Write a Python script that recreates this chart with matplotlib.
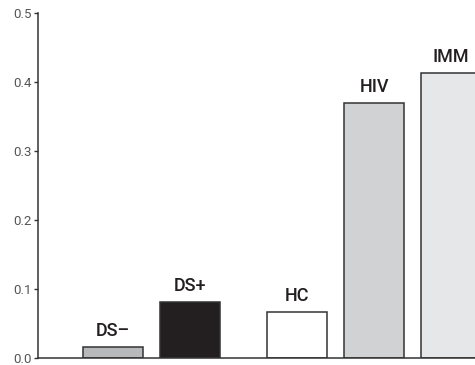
""" Bar chart of group values """
import matplotlib
matplotlib.use('Agg')
import matplotlib.pyplot as plt

# data
groups = ['DS\u2013', 'DS+', 'HC', 'HIV', 'IMM']
values = [0.017, 0.081, 0.067, 0.370, 0.414]
positions = [0, 1, 2.4, 3.4, 4.4]
colors = ['#b8b9bb', '#231f20', '#ffffff', '#d1d2d4', '#e6e7e8']
yticks = [0.0, 0.1, 0.2, 0.3, 0.4, 0.5]

fig = plt.figure(figsize=(4.75, 3.65), dpi=100)
ax = fig.add_axes([0.0806, 0.0184, 0.9194, 0.9452])

ax.bar(positions, values, width=0.78, color=colors, edgecolor='#333333', linewidth=1.1)
for x, v, g in zip(positions, values, groups):
    ax.annotate(g, (x, v), xytext=(0, 5), textcoords='offset points', ha='center', va='bottom',
                fontsize=13, fontweight='medium', family=['Roboto', 'DejaVu Sans'], color='#231f20')

ax.set_xlim(-0.973, 4.714)
ax.set_ylim(0, 0.5)
ax.set_yticks(yticks)
ax.set_yticklabels(['{:.1f}'.format(t) for t in yticks])
ax.set_xticks([])
for s in ['top', 'right']:
    ax.spines[s].set_visible(False)
for s in ['left', 'bottom']:
    ax.spines[s].set_color('#333333')
    ax.spines[s].set_linewidth(1.1)
ax.tick_params(axis='y', length=3, width=1, color='#333333', labelcolor='#555555', labelsize=9.5, pad=2)
for lbl in ax.get_yticklabels():
    lbl.set_family(['Roboto', 'DejaVu Sans'])

fig.savefig('out.png', dpi=100)
plt.close()
